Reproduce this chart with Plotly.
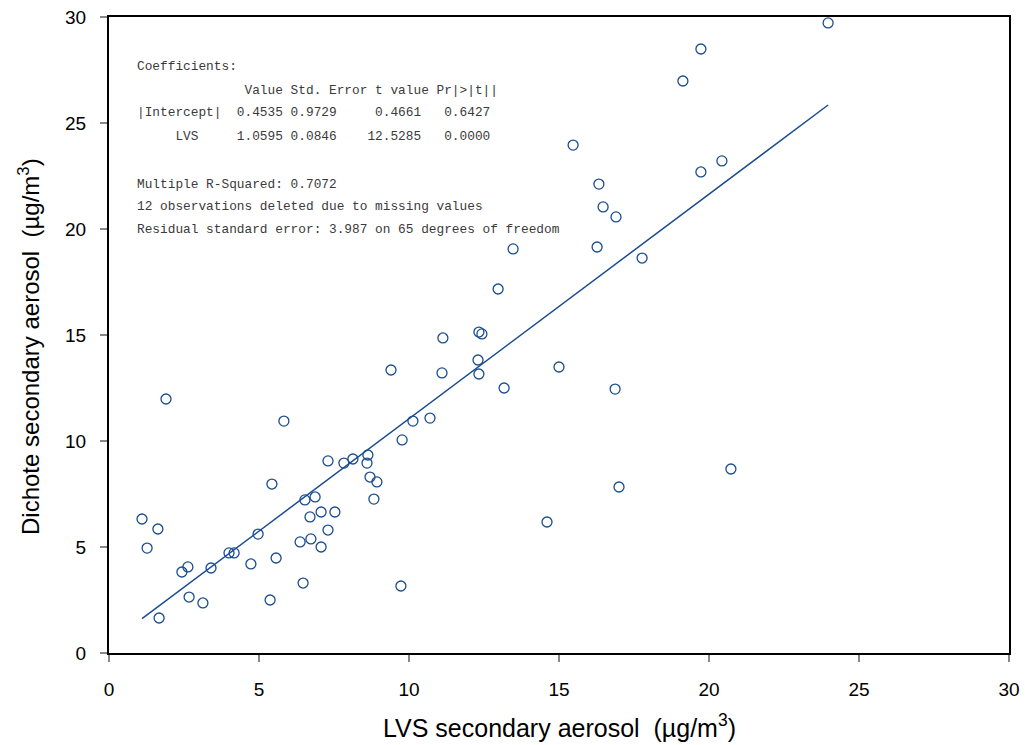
import plotly.graph_objects as go

# LVS vs dichotomous sampler secondary aerosol (ug/m3)
lvs = [1.10, 1.27, 1.63, 1.90, 1.67, 2.43, 2.63, 2.67, 3.13, 3.40,
       4.00, 4.17, 4.97, 4.73, 5.43, 5.37, 5.57, 5.83, 6.53, 6.70,
       6.87, 6.73, 6.37, 6.47, 7.07, 7.07, 7.30, 7.30, 7.53, 7.83,
       8.13, 8.60, 8.63, 8.70, 8.93, 8.83, 9.40, 9.77, 9.73, 10.13,
       10.70, 11.13, 11.10, 12.97, 12.30, 12.33, 12.33, 12.43, 13.17, 13.47,
       14.60, 15.00, 15.47, 16.27, 16.33, 16.47, 16.90, 16.87, 17.00, 17.77,
       19.13, 19.73, 19.73, 20.43, 20.73, 23.97]
dichot = [6.32, 4.95, 5.85, 11.98, 1.65, 3.82, 4.06, 2.64, 2.36, 4.01,
          4.72, 4.72, 5.61, 4.20, 7.97, 2.50, 4.48, 10.94, 7.22, 6.42,
          7.36, 5.38, 5.24, 3.30, 6.65, 5.00, 9.06, 5.80, 6.65, 8.96,
          9.15, 8.96, 9.34, 8.30, 8.07, 7.26, 13.35, 10.05, 3.16, 10.94,
          11.08, 14.86, 13.21, 17.17, 13.82, 13.16, 15.14, 15.05, 12.50, 19.06,
          6.18, 13.49, 23.96, 19.15, 22.12, 21.04, 20.57, 12.45, 7.83, 18.63,
          26.98, 22.69, 28.49, 23.21, 8.68, 29.72]

# fitted coefficients
intercept = 0.4535
slope = 1.0595

tick_vals = [0, 5, 10, 15, 20, 25, 30]

summary_lines = [
    "Coefficients:",
    "              Value Std. Error t value Pr|>|t||",
    "|Intercept|  0.4535 0.9729     0.4661   0.6427",
    "     LVS     1.0595 0.0846    12.5285   0.0000",
    "",
    "Multiple R-Squared: 0.7072",
    "12 observations deleted due to missing values",
    "Residual standard error: 3.987 on 65 degrees of freedom",
]
summary_rows_px = [66, 91, 113, 136, None, 184, 206, 229]

blue = "#1a4d8f"

fit_x = [min(lvs), max(lvs)]
fit_y = [intercept + slope * v for v in fit_x]

fig = go.Figure()
fig.add_trace(go.Scatter(
    x=lvs, y=dichot, mode="markers",
    marker=dict(symbol="circle-open", size=10, color=blue, line=dict(width=1.3, color=blue)),
    showlegend=False, hoverinfo="skip",
))
fig.add_trace(go.Scatter(
    x=fit_x, y=fit_y, mode="lines",
    line=dict(color=blue, width=1.5),
    showlegend=False, hoverinfo="skip",
))

L, R, T, B = 109, 16, 17, 92
W, H = 1025, 745
pw, ph = W - L - R, H - T - B

axis_common = dict(
    range=[0, 30], tickvals=tick_vals, ticks="outside", ticklen=7, tickwidth=1.5,
    tickcolor="#888888", showline=True, linecolor="black", linewidth=2, mirror=True,
    showgrid=False, zeroline=False, automargin=False,
    tickfont=dict(family="Liberation Sans, Arial, sans-serif", size=19, color="black"),
)
fig.update_xaxes(**axis_common, ticklabelstandoff=11)
fig.update_yaxes(**axis_common, ticklabelstandoff=10)

annotations = []
for text, py in zip(summary_lines, summary_rows_px):
    if py is None:
        continue
    annotations.append(dict(
        text=text.replace(" ", "\u00a0"), xref="paper", yref="paper",
        x=(135 - L) / pw, y=(H - B - py) / ph, xanchor="left", yanchor="middle",
        showarrow=False,
        font=dict(family="Liberation Mono, Courier New, monospace", size=12.8, color="#3a3a3a"),
    ))

annotations.append(dict(
    text="LVS secondary aerosol  (\u00b5g/m<sup>3</sup>)", xref="paper", yref="paper",
    x=0.5, y=(H - B - 726) / ph, xanchor="center", yanchor="middle", showarrow=False,
    font=dict(family="Liberation Sans, Arial, sans-serif", size=25, color="black"),
))
annotations.append(dict(
    text="Dichote secondary aerosol  (\u00b5g/m<sup>3</sup>)", xref="paper", yref="paper",
    x=(29 - L) / pw, y=(H - B - 347) / ph, xanchor="center", yanchor="middle",
    textangle=-90, showarrow=False,
    font=dict(family="Liberation Sans, Arial, sans-serif", size=24, color="black"),
))

fig.update_layout(
    width=W, height=H, margin=dict(l=L, r=R, t=T, b=B),
    paper_bgcolor="white", plot_bgcolor="white",
    annotations=annotations,
)

fig.write_html("out.html")
